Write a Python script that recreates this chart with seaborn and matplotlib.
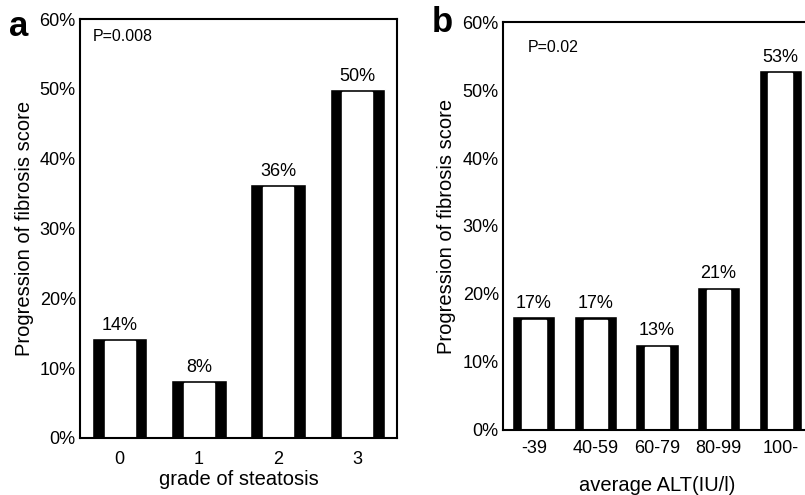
import matplotlib
matplotlib.use("Agg")
import matplotlib.pyplot as plt
import seaborn as sns

# Dados
grau_esteatose = ["0", "1", "2", "3"]
progressao_a = [14.3, 8.3, 36.4, 50.0]

faixas_alt = ["-39", "40-59", "60-79", "80-99", "100-"]
progressao_b = [16.7, 16.7, 12.7, 21.1, 52.9]

sns.set_style("ticks")
plt.rcParams["font.family"] = ["Liberation Sans", "DejaVu Sans"]
plt.rcParams["text.color"] = "black"
plt.rcParams["axes.labelcolor"] = "black"
plt.rcParams["xtick.color"] = "black"
plt.rcParams["ytick.color"] = "black"

fig = plt.figure(figsize=(8.05, 4.95), dpi=100)
ax_a = fig.add_axes([80 / 805, 57 / 495, 317 / 805, 419 / 495])
ax_b = fig.add_axes([503 / 805, 65 / 495, 308 / 805, 408 / 495])


def painel(ax, cats, vals, xlabel, xpad, lpad, ylpad):
    # barra preta por fora, faixa branca no meio
    sns.barplot(x=cats, y=vals, color="black", width=0.7, saturation=1, ax=ax)
    sns.barplot(x=cats, y=vals, color="white", width=0.38, saturation=1, ax=ax)
    for p in ax.containers[1]:
        p.set_height(p.get_height() - 0.45)
    ax.bar_label(ax.containers[0], labels=[f"{v:.0f}%" for v in vals],
                 padding=3, fontsize=13)

    ax.set_ylim(0, 60)
    ax.set_xlim(-0.5, len(cats) - 0.5)
    ax.set_yticks(range(0, 61, 10))
    ax.set_yticklabels([f"{t}%" for t in range(0, 61, 10)])
    ax.tick_params(axis="both", length=0, labelsize=13)
    ax.tick_params(axis="x", pad=xpad)
    ax.tick_params(axis="y", pad=3)
    ax.set_xlabel(xlabel, fontsize=14.5, labelpad=lpad)
    ax.set_ylabel("Progression of fibrosis score", fontsize=14.5, labelpad=ylpad)
    for s in ax.spines.values():
        s.set_visible(True)
        s.set_linewidth(1.5)
        s.set_color("black")


painel(ax_a, grau_esteatose, progressao_a, "grade of steatosis", 9, 2, 4)
painel(ax_b, faixas_alt, progressao_b, "average ALT(IU/l)", 7, 14, 5)

ax_a.text(0.04, 0.975, "P=0.008", transform=ax_a.transAxes, fontsize=11.5,
          va="top", ha="left")
ax_b.text(0.08, 0.955, "P=0.02", transform=ax_b.transAxes, fontsize=11.5,
          va="top", ha="left")

fig.text(9 / 805, 1 - 27 / 495, "a", fontsize=25, fontweight="bold",
         va="center", ha="left")
fig.text(432 / 805, 1 - 22 / 495, "b", fontsize=25, fontweight="bold",
         va="center", ha="left")

fig.savefig("out.png", dpi=100)
